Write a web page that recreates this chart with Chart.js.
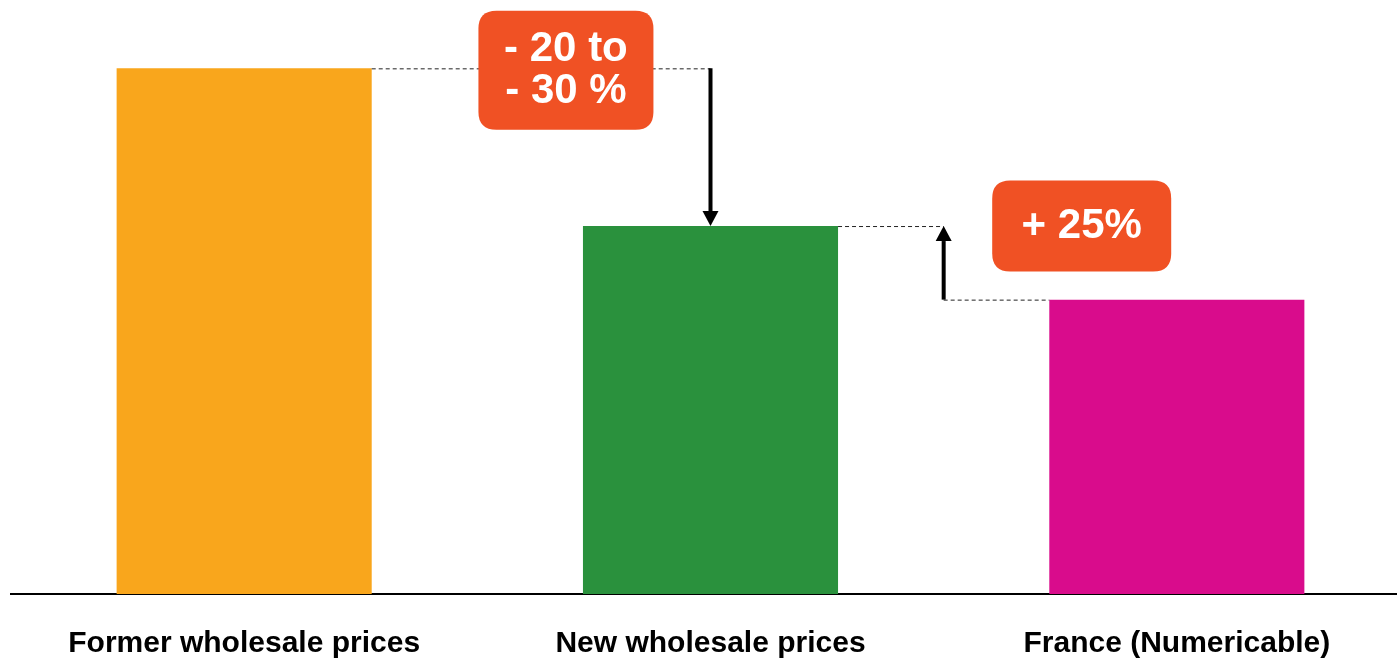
<!DOCTYPE html>
<html>
<head>
<meta charset="utf-8">
<script src="https://cdn.jsdelivr.net/npm/chart.js@4.4.1/dist/chart.umd.min.js"></script>
<style>
  html, body { margin: 0; padding: 0; background: #fff; overflow: hidden; }
  #wrap { position: relative; width: 1410px; height: 661px; }
</style>
</head>
<body>
<div id="wrap"><canvas id="chart" width="1410" height="661"></canvas></div>
<script>
// Wholesale price comparison (index: former price = 100)
const categories = ['Former wholesale prices', 'New wholesale prices', 'France (Numericable)'];
const priceIndex = [100, 70, 56];
const barColors = ['#F9A61C', '#2A913D', '#D90C8C'];

// Change callouts: text lines, anchor position on the category axis and value level
const calloutLines = [['- 20 to', '- 30 %'], ['+ 25%']];
const calloutAnchors = [0.69, 1.796];
const calloutLevels = [100, 70];

function roundRect(ctx, x, y, w, h, r) {
  ctx.beginPath();
  ctx.moveTo(x + r, y);
  ctx.lineTo(x + w - r, y);
  ctx.quadraticCurveTo(x + w, y, x + w, y + r);
  ctx.lineTo(x + w, y + h - r);
  ctx.quadraticCurveTo(x + w, y + h, x + w - r, y + h);
  ctx.lineTo(x + r, y + h);
  ctx.quadraticCurveTo(x, y + h, x, y + h - r);
  ctx.lineTo(x, y + r);
  ctx.quadraticCurveTo(x, y, x + r, y);
  ctx.closePath();
}

function arrow(ctx, x, yFrom, yTo) {
  const dir = yTo > yFrom ? 1 : -1;
  const head = 15;
  ctx.save();
  ctx.strokeStyle = '#000';
  ctx.fillStyle = '#000';
  ctx.lineWidth = 4;
  ctx.beginPath();
  ctx.moveTo(x, yFrom);
  ctx.lineTo(x, yTo - dir * head);
  ctx.stroke();
  ctx.beginPath();
  ctx.moveTo(x, yTo);
  ctx.lineTo(x - 8, yTo - dir * head);
  ctx.lineTo(x + 8, yTo - dir * head);
  ctx.closePath();
  ctx.fill();
  ctx.restore();
}

function dashed(ctx, x1, x2, y) {
  ctx.save();
  ctx.strokeStyle = '#222';
  ctx.lineWidth = 1;
  ctx.setLineDash([4, 3]);
  ctx.beginPath();
  ctx.moveTo(x1, y + 0.5);
  ctx.lineTo(x2, y + 0.5);
  ctx.stroke();
  ctx.restore();
}

const changeMarks = {
  id: 'changeMarks',
  afterDatasetsDraw(chart) {
    const ctx = chart.ctx;
    const xs = chart.scales.x, ys = chart.scales.y;
    const bars = chart.getDatasetMeta(0).data;
    const half = i => bars[i].width / 2;

    // drop from former to new price
    const yFormer = ys.getPixelForValue(priceIndex[0]);
    const yNew = ys.getPixelForValue(priceIndex[1]);
    const yFr = ys.getPixelForValue(priceIndex[2]);
    const xNew = xs.getPixelForValue(1);
    dashed(ctx, bars[0].x + half(0), xNew, yFormer);
    arrow(ctx, xNew, yFormer, yNew);

    // gap between France and new price
    const xMid = xs.getPixelForValue(1.5);
    dashed(ctx, bars[1].x + half(1), xMid, yNew);
    dashed(ctx, xMid, bars[2].x - half(2), yFr);
    arrow(ctx, xMid, yFr, yNew);

    // callout boxes
    const sizes = [[175, 119], [179, 91]];
    calloutLines.forEach((lines, i) => {
      const cx = xs.getPixelForValue(calloutAnchors[i]);
      const cy = ys.getPixelForValue(calloutLevels[i]) + (lines.length > 1 ? 2 : 0);
      const [w, h] = sizes[i];
      ctx.save();
      ctx.fillStyle = '#F05124';
      roundRect(ctx, cx - w / 2, cy - h / 2, w, h, 18);
      ctx.fill();
      ctx.fillStyle = '#fff';
      ctx.font = 'bold 42px "Liberation Sans", Arial, sans-serif';
      ctx.textAlign = 'center';
      ctx.textBaseline = 'middle';
      const lh = 42;
      lines.forEach((t, k) => {
        ctx.fillText(t, cx, cy + (k - (lines.length - 1) / 2) * lh);
      });
      ctx.restore();
    });
  }
};

new Chart(document.getElementById('chart'), {
  type: 'bar',
  data: {
    labels: categories,
    datasets: [{
      data: priceIndex,
      backgroundColor: barColors,
      borderWidth: 0,
      barPercentage: 0.547,
      categoryPercentage: 1
    }]
  },
  options: {
    responsive: false,
    animation: false,
    maintainAspectRatio: false,
    layout: { padding: { left: 11, right: 0, top: 0, bottom: 0 } },
    plugins: { legend: { display: false }, tooltip: { enabled: false } },
    scales: {
      x: {
        grid: { display: false, drawTicks: false },
        border: { display: true, color: '#000', width: 2 },
        ticks: {
          color: '#000',
          padding: 32,
          maxRotation: 0,
          autoSkip: false,
          font: { family: '"Liberation Sans", Arial, sans-serif', size: 30, weight: 'bold' }
        },
        afterFit(scale) { scale.height = 67; }
      },
      y: {
        display: false,
        min: 0,
        max: 113
      }
    }
  },
  plugins: [changeMarks]
});
</script>
</body>
</html>
